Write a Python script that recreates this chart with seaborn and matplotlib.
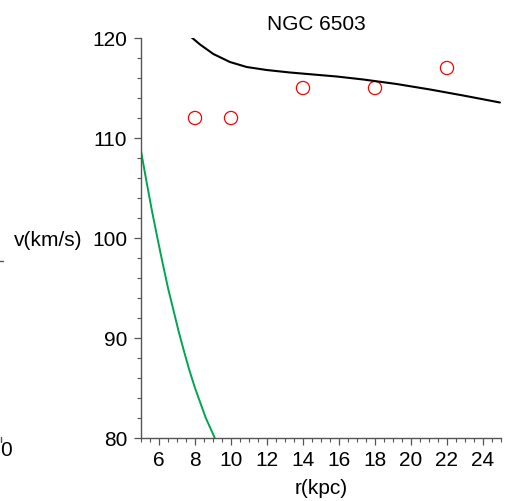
import matplotlib
matplotlib.use("Agg")
import matplotlib.pyplot as plt
import seaborn as sns
from matplotlib.ticker import MultipleLocator
from matplotlib.lines import Line2D

sns.set_style("white")
plt.rcParams['font.family'] = ['Liberation Sans', 'DejaVu Sans']
plt.rcParams['text.color'] = 'black'
plt.rcParams['axes.labelcolor'] = 'black'
plt.rcParams['xtick.color'] = 'black'
plt.rcParams['ytick.color'] = 'black'

# observed rotation velocities
obs_r = [8, 10, 14, 18, 22]
obs_v = [112, 112, 115, 115, 117]

# model curve (black)
model_r = [7.72, 8.28, 9.02, 9.94, 10.87, 11.98, 13.28, 14.57, 15.87,
           17.35, 19.2, 21.06, 22.9, 24.94]
model_v = [120.2, 119.35, 118.4, 117.6, 117.1, 116.8, 116.55, 116.35, 116.15,
           115.85, 115.4, 114.85, 114.25, 113.55]

# green curve
green_r = [5.0, 5.3, 5.6, 5.9, 6.2, 6.5, 6.8, 7.1, 7.4, 7.7, 8.0, 8.3,
           8.6, 8.9, 9.2]
green_v = [108.7, 105.7, 102.8, 100.1, 97.5, 95.0, 92.8, 90.6, 88.6, 86.7,
           85.0, 83.5, 82.0, 80.8, 79.6]

fig = plt.figure(figsize=(5.06, 5.01), dpi=100)
ax = fig.add_axes([141/506, 63/501, 360/506, 400/501])

sns.lineplot(x=model_r, y=model_v, ax=ax, color='black', linewidth=1.5, sort=False)
sns.lineplot(x=green_r, y=green_v, ax=ax, color='#00a550', linewidth=1.4, sort=False)
sns.scatterplot(x=obs_r, y=obs_v, ax=ax, marker='o', s=90, facecolors='none',
                edgecolor='red', linewidth=0.9)

ax.set_xlim(5, 25)
ax.set_ylim(80, 120)
for s in ['top', 'right']:
    ax.spines[s].set_visible(False)
for s in ['left', 'bottom']:
    ax.spines[s].set_color('#555555')
    ax.spines[s].set_linewidth(1.0)

ax.xaxis.set_major_locator(MultipleLocator(2))
ax.xaxis.set_minor_locator(MultipleLocator(0.5))
ax.yaxis.set_major_locator(MultipleLocator(10))
ax.yaxis.set_minor_locator(MultipleLocator(2))
ax.tick_params(axis='both', which='major', direction='out', length=5, width=0.9,
               color='#555555', labelcolor='black', labelsize=15, bottom=True, left=True)
ax.tick_params(axis='x', which='major', pad=4)
ax.tick_params(axis='y', which='major', pad=5)
ax.tick_params(axis='both', which='minor', direction='out', length=3, width=0.8,
               color='#555555', bottom=True, left=True)
ax.set_xticks([6, 8, 10, 12, 14, 16, 18, 20, 22, 24])
ax.set_yticks([80, 90, 100, 110, 120])

ax.set_xlabel('r(kpc)', fontsize=15, labelpad=7, color='black')
ax.set_ylabel('')
ax.set_title('NGC 6503', fontsize=15, pad=6, x=0.488, color='black')

fig.text(14/506, 1 - 241/501, 'v(km/s)', fontsize=15, va='center', ha='left', color='black')
fig.text(0.0, 1 - 451/501, '0', fontsize=15, va='center', ha='left', color='black')
fig.add_artist(Line2D([0, 3/506], [1 - 261/501, 1 - 261/501], color='#555555', lw=1))
fig.add_artist(Line2D([1/506, 1/506], [1 - 437/501, 1 - 442/501], color='#555555', lw=1))

fig.savefig('out.png', dpi=100)
